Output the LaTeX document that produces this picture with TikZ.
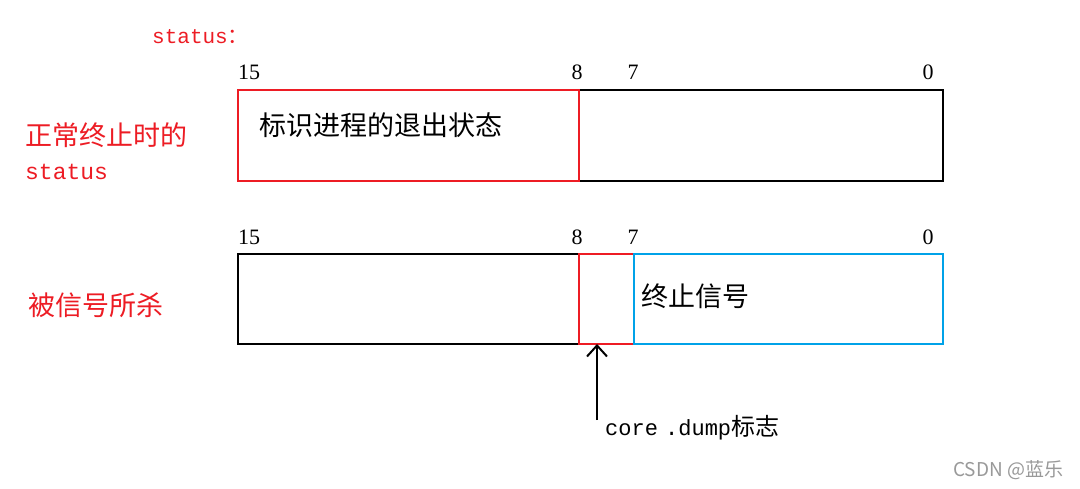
\documentclass[tikz,border=0pt]{standalone}
\usetikzlibrary{arrows.meta}
\usepackage{fontspec}
\setmainfont{Liberation Serif}
\setmonofont{Liberation Mono}
\newfontfamily\cjk{Noto Sans CJK SC}
\definecolor{myred}{RGB}{237,28,36}
\definecolor{myblue}{RGB}{0,162,232}
\tikzset{lbl/.style={inner sep=0pt,anchor=west},
 bx/.style={line width=2.2pt},
 num/.style={inner sep=0pt,font=\fontsize{22}{22}\selectfont}}
\begin{document}
\begin{tikzpicture}[x=1pt,y=-1pt]
\useasboundingbox[fill=white] (0,0) rectangle (1080,489);
\node[lbl,text=myred,font=\ttfamily\fontsize{21}{21}\selectfont] (st) at (152,37) {status\cjk ：};
% top
\node[draw,bx,minimum width=705,minimum height=91,anchor=north west,inner sep=0] (t) at (237,89) {};
\node[draw=myred,bx,minimum width=341,minimum height=91,anchor=north west,inner sep=0] (tr) at (237,89) {};
\node[lbl,font=\cjk\fontsize{27}{27}\selectfont] (tt) at (259,125) {标识进程的退出状态};
\node[num] (a15) at (249,72) {15};
\node[num] (a8) at (577,72) {8};
\node[num] (a7) at (633,72) {7};
\node[num] (a0) at (928,72) {0};
\node[lbl,text=myred,font=\cjk\fontsize{27}{27}\selectfont] (l1) at (25,135) {正常终止时的};
\node[lbl,text=myred,font=\ttfamily\fontsize{23}{23}\selectfont] (l2) at (25,172) {status};
% bottom
\node[draw,bx,minimum width=705,minimum height=90,anchor=north west,inner sep=0] (b) at (237,253) {};
\node[draw=myred,bx,minimum width=55,minimum height=90,anchor=north west,inner sep=0] (br) at (578,253) {};
\node[draw=myblue,bx,minimum width=309,minimum height=90,anchor=north west,inner sep=0] (bb) at (633,253) {};
\node[lbl,font=\cjk\fontsize{27}{27}\selectfont] (bt) at (641,296) {终止信号};
\node[num] (b15) at (249,237) {15};
\node[num] (b8) at (577,237) {8};
\node[num] (b7) at (633,237) {7};
\node[num] (b0) at (928,237) {0};
\node[lbl,text=myred,font=\cjk\fontsize{27}{27}\selectfont] (l3) at (28,305) {被信号所杀};
\node[lbl,font=\ttfamily\fontsize{22}{22}\selectfont] (cd) at (605,428) {core\hspace{-6pt} .dump{\cjk\fontsize{24}{24}\selectfont 标志}};
\coordinate (ce) at (597,420);
\draw[line width=2pt,-{Straight Barb[length=11pt,width=20pt]}] (ce) -- (597,344);
\node[lbl,text=gray!80,font=\cjk\fontsize{19}{19}\selectfont] (wm) at (953,470) {CSDN @蓝乐};
\end{tikzpicture}
\end{document}
